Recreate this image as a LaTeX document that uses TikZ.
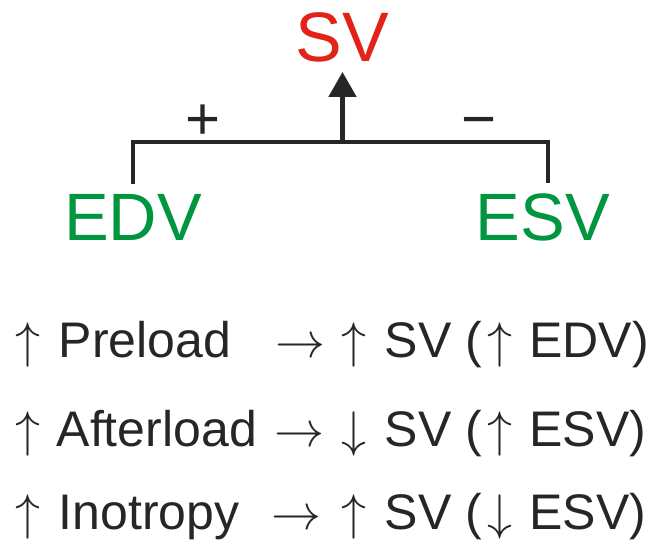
\RequirePackage{fix-cm}
\documentclass[tikz,border=0pt]{standalone}
\usepackage{fontspec}
\setmainfont{Liberation Sans}
\usetikzlibrary{arrows.meta}
\definecolor{svred}{RGB}{226,35,26}
\definecolor{volgreen}{RGB}{0,150,64}
\begin{document}
\begin{tikzpicture}[x=1pt,y=-1pt,
  bigred/.style={text=svred,font=\fontsize{70}{80}\selectfont,inner sep=10pt},
  biggreen/.style={text=volgreen,font=\fontsize{67}{76}\selectfont,inner sep=10pt},
  signlbl/.style={text=black!85,font=\fontsize{60}{70}\selectfont,inner sep=0pt,anchor=base},
  rowtxt/.style={text=black!85,font=\fontsize{50}{60}\selectfont,inner sep=0pt,anchor=base west},
  conn/.style={draw=black!85,line width=4.5pt},
]
\useasboundingbox (0,0) rectangle (658,539);
% top part
\node[bigred,anchor=base] (sv) at (342.5,61) {SV};
\node[biggreen,anchor=base] (edv) at (133,240) {EDV};
\node[biggreen,anchor=base] (esv) at (543,240) {ESV};
\coordinate (j) at (342.5,142);
\draw[conn] (edv.north) |- (j) -| ([xshift=5pt]esv.north);
\draw[conn,-{Triangle[length=25pt,width=27pt]}] (j) -- (sv.south);
\node[signlbl] (plus) at (203,139) {+};
\node[signlbl] (minus) at (479,139) {−};
% bottom rows
\node[rowtxt] (l1) at (15.5,357.5) {$\uparrow$\hspace{18pt}Preload};
\node[rowtxt] (l2) at (15.5,446) {$\uparrow$\hspace{16pt}Afterload};
\node[rowtxt] (l3) at (15.5,529) {$\uparrow$\hspace{18pt}Inotropy};
\node[rowtxt] (r1) at (275,357.5) {$\rightarrow$\hspace{16.5pt}$\uparrow$\hspace{18pt}SV (\hspace{6pt}$\uparrow$\hspace{16.5pt}EDV)};
\node[rowtxt] (r2) at (274,446) {$\rightarrow$\hspace{17.5pt}$\downarrow$\hspace{18pt}SV (\hspace{6pt}$\uparrow$\hspace{16.5pt}ESV)};
\node[rowtxt] (r3) at (271,529) {$\rightarrow$\hspace{20.5pt}$\uparrow$\hspace{18pt}SV (\hspace{6pt}$\downarrow$\hspace{16.5pt}ESV)};
\end{tikzpicture}
\end{document}
